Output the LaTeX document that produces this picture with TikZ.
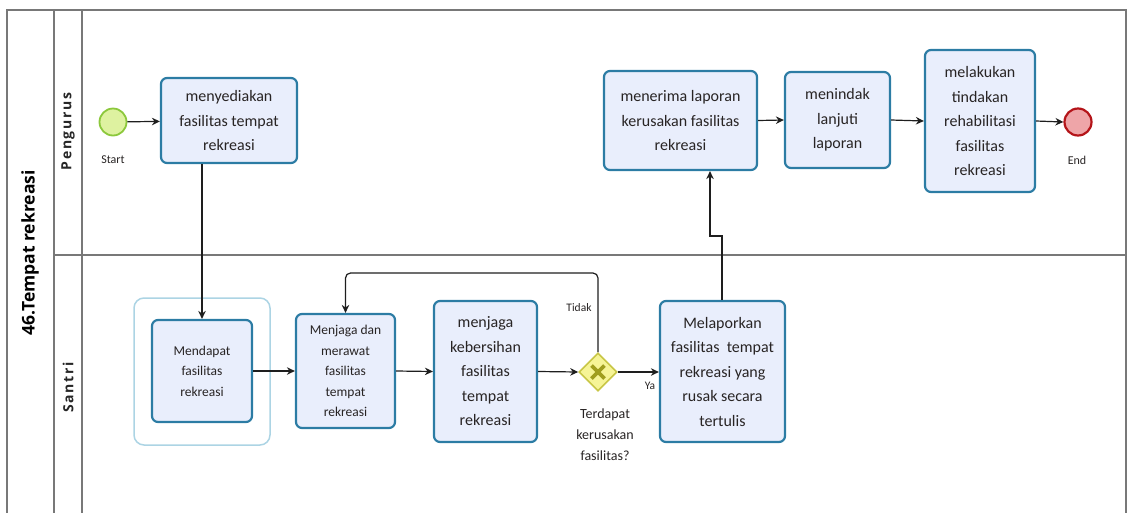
\documentclass[tikz,border=0pt]{standalone}
\usepackage{fontspec}
\setmainfont{Carlito}
\newfontfamily\lanefont{Open Sans}
\usetikzlibrary{shapes.geometric,arrows.meta,calc}
\definecolor{taskfill}{RGB}{233,238,252}
\definecolor{taskborder}{RGB}{44,124,164}
\definecolor{groupborder}{RGB}{172,212,228}
\definecolor{txt}{RGB}{40,36,36}
\definecolor{frame}{RGB}{120,120,120}
\definecolor{startfill}{RGB}{222,242,160}
\definecolor{startborder}{RGB}{140,200,60}
\definecolor{endfill}{RGB}{238,165,168}
\definecolor{endborder}{RGB}{180,20,25}
\definecolor{gwfill}{RGB}{246,244,150}
\definecolor{gwborder}{RGB}{200,198,70}
\definecolor{gwx}{RGB}{160,158,30}
\definecolor{flowc}{RGB}{30,30,30}
\tikzset{
  x=1pt,y=-1pt,
  task/.style={draw=taskborder, fill=taskfill, line width=2.2pt, rounded corners=6pt,
    align=center, text=txt, inner sep=0pt, font=\fontsize{16}{24.5}\selectfont},
  smalltask/.style={task, font=\fontsize{13.5}{20.5}\selectfont},
  flow/.style={draw=flowc, line width=1.2pt, -{Stealth[length=8pt,width=7.5pt]}},
  lbl/.style={text=txt, inner sep=0pt, align=center},
  frm/.style={draw=frame, line width=1.3pt},
  lanelbl/.style={rotate=90, text=black!85, font=\lanefont\bfseries\fontsize{14}{16}\selectfont\addfontfeatures{LetterSpace=12}},
}
\begin{document}
\begin{tikzpicture}
\useasboundingbox (0,0) rectangle (1128,512);
% frame
\draw[frm] (7,520) -- (7,10) -- (1126,10) -- (1126,520);
\draw[frm] (54,10) -- (54,520);
\draw[frm] (82,10) -- (82,520);
\draw[frm] (54,255) -- (1126,255);
% pool and lane labels
\node[rotate=90, font=\lanefont\bfseries\fontsize{17.5}{20}\selectfont, text=black] (pool) at (30,253) {46.Tempat rekreasi};
\node[lanelbl] (lane1) at (68,131.5) {Pengurus};
\node[lanelbl] (lane2) at (68,387.5) {Santri};
% events
\node[circle, draw=startborder, fill=startfill, line width=1.8pt, minimum size=27pt, inner sep=0pt] (start) at (113,122) {};
\node[lbl, font=\fontsize{12}{12}\selectfont] (startl) at (113,160) {Start};
\node[circle, draw=endborder, fill=endfill, line width=2.2pt, minimum size=27pt, inner sep=0pt] (end) at (1078,122) {};
\node[lbl, font=\fontsize{12}{12}\selectfont] (endl) at (1077,160) {End};
% group box
\node[draw=groupborder, line width=1.5pt, rounded corners=10pt, minimum width=136pt, minimum height=147pt] (grp) at (202,371.5) {};
% tasks
\node[task, minimum width=136pt, minimum height=85pt] (prov) at (229,120.5) {menyediakan\\fasilitas tempat\\rekreasi};
\node[smalltask, minimum width=100pt, minimum height=102pt] (get) at (202,371) {Mendapat\\fasilitas\\rekreasi};
\node[task, font=\fontsize{13.5}{20.5}\selectfont, minimum width=99pt, minimum height=114pt] (care) at (345.5,371) {Menjaga dan\\merawat\\fasilitas\\tempat\\rekreasi};
\node[task, minimum width=103pt, minimum height=141pt] (clean) at (485.5,371.5) {menjaga\\kebersihan\\fasilitas\\tempat\\rekreasi};
\node[diamond, draw=gwborder, fill=gwfill, line width=1.6pt, minimum width=38pt, minimum height=38pt, inner sep=0pt] (gw) at (598,372) {};
\draw[gwx, line width=3.6pt] ($(gw)+(-6.5,-6.5)$) -- ($(gw)+(6.5,6.5)$) ($(gw)+(-6.5,6.5)$) -- ($(gw)+(6.5,-6.5)$);
\node[task, minimum width=125pt, minimum height=141pt] (report) at (722.5,371.5) {Melaporkan\\fasilitas\ \ tempat\\rekreasi yang\\rusak secara\\tertulis};
\node[task, minimum width=153pt, minimum height=99pt] (recv) at (680.5,120.5) {menerima laporan\\kerusakan fasilitas\\rekreasi};
\node[task, minimum width=105pt, minimum height=96pt] (follow) at (837.5,120) {menindak\\lanjuti\\laporan};
\node[task, minimum width=110pt, minimum height=142pt] (rehab) at (980,121) {melakukan\\tindakan\\rehabilitasi\\fasilitas\\rekreasi};
% labels
\node[lbl, font=\fontsize{11.5}{12}\selectfont] (tidak) at (579,308) {Tidak};
\node[lbl, font=\fontsize{11.5}{12}\selectfont] (ya) at (650,386) {Ya};
\node[lbl, font=\fontsize{14}{21}\selectfont] (q) at (605,435) {Terdapat\\kerusakan\\fasilitas?};
% coordinates
\coordinate (loop) at (598,273);
\coordinate (j1) at (722,236);
\coordinate (j2) at (710,236);
% flows
\draw[flow] (start) -- (prov);
\draw[flow] (get.north |- prov.south) -- (get.north);
\draw[flow] (get.east) -- (care.west);
\draw[flow] (care.east) -- (clean.west);
\draw[flow] (clean.east) -- (gw.west);
\draw[flow] (gw.east) -- (report.west |- gw.east);
\draw[flow, rounded corners=5pt] (gw.north) -- (loop) -| (care.north);
\draw[flow] (report.north -| j1) -- (j1) -- (j2) -- (j2 |- recv.south);
\draw[flow] (recv.east) -- (follow.west);
\draw[flow] (follow.east) -- (rehab.west);
\draw[flow] (rehab.east) -- (end.west);
\end{tikzpicture}
\end{document}
